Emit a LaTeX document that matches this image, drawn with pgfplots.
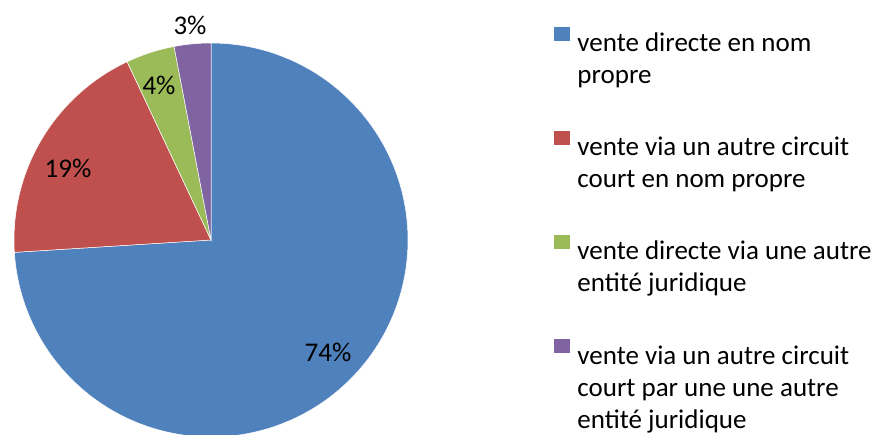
\documentclass[border=0pt]{standalone}
\usepackage{fontspec}
\setmainfont{Carlito}
\usepackage{pgfplots}
\pgfplotsset{compat=1.18}
\definecolor{pieblue}{HTML}{4F81BD}
\definecolor{piered}{HTML}{C0504D}
\definecolor{piegreen}{HTML}{9BBB59}
\definecolor{piepurple}{HTML}{8064A2}
% shares (%): 74, 19, 4, 3  -> angles clockwise from 12 o'clock
\begin{document}
\begin{tikzpicture}
\useasboundingbox (0,0) rectangle (874pt,434pt);
\begin{axis}[
  at={(0,0)}, anchor=south west, scale only axis,
  width=874pt, height=434pt,
  xmin=0, xmax=874, ymin=0, ymax=434,
  hide axis, clip=false,
  legend cell align=left,
  legend style={draw=none, fill=none, at={(axis cs:554,407)}, anchor=north west,
    inner sep=0pt, row sep=78pt, column sep=0pt,
    font=\fontsize{27}{32}\selectfont,
    nodes={inner sep=0pt}},
  legend image code/.code={\path[#1,draw=none] (0pt,2pt) rectangle (16pt,16pt); \path (23pt,0pt);},
]
\addplot[fill=pieblue, draw=white, line width=0.5pt, domain=-176.4:90, samples=150, variable=\t]
  ({211+197*cos(t)},{194+197*sin(t)}) -- (axis cs:211,194) -- cycle;
\addlegendentry{\parbox[t]{300pt}{vente directe en nom\\propre}}
\addplot[fill=piered, draw=white, line width=0.5pt, domain=115.2:183.6, samples=60, variable=\t]
  ({211+197*cos(t)},{194+197*sin(t)}) -- (axis cs:211,194) -- cycle;
\addlegendentry{\parbox[t]{300pt}{vente via un autre circuit\\court en nom propre}}
\addplot[fill=piegreen, draw=white, line width=0.5pt, domain=100.8:115.2, samples=20, variable=\t]
  ({211+197*cos(t)},{194+197*sin(t)}) -- (axis cs:211,194) -- cycle;
\addlegendentry{\parbox[t]{300pt}{vente directe via une autre\\entité juridique}}
\addplot[fill=piepurple, draw=white, line width=0.5pt, domain=90:100.8, samples=20, variable=\t]
  ({211+197*cos(t)},{194+197*sin(t)}) -- (axis cs:211,194) -- cycle;
\addlegendentry{\parbox[t]{300pt}{vente via un autre circuit\\court par une une autre\\entité juridique}}
\node[font=\fontsize{27}{32}\selectfont] at (axis cs:328,82) {74\%};
\node[font=\fontsize{27}{32}\selectfont] at (axis cs:68,266) {19\%};
\node[font=\fontsize{27}{32}\selectfont] at (axis cs:159,349) {4\%};
\node[font=\fontsize{27}{32}\selectfont] at (axis cs:190,409) {3\%};
\end{axis}
\end{tikzpicture}
\end{document}
